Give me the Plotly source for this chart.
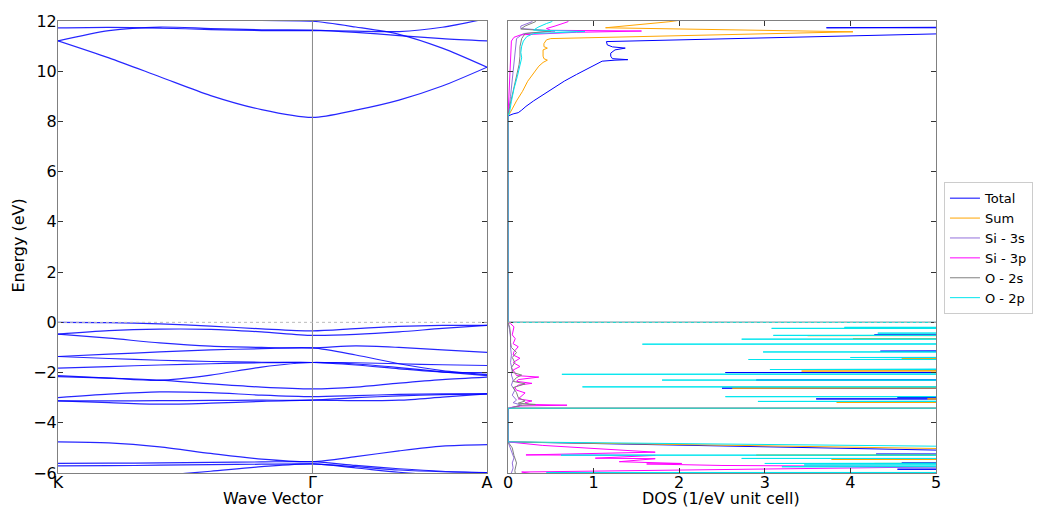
import plotly.graph_objects as go

# ---------------- band structure data ----------------
k_path = [0.0, 0.2, 0.4, 0.6, 0.8, 1.0, 1.17, 1.34, 1.51, 1.686]
k_ticks = [0.0, 1.0, 1.686]
k_labels = ["K", "Γ", "A"]

band_1 = [0.0, -0.01, -0.06, -0.15, -0.26, -0.34, -0.25, -0.16, -0.12, -0.12]
band_2 = [-0.47, -0.33, -0.27, -0.28, -0.38, -0.52, -0.48, -0.38, -0.24, -0.12]
band_3 = [-0.47, -0.63, -0.82, -0.95, -1.0, -1.02, -0.94, -1.0, -1.1, -1.2]
band_4 = [-1.36, -1.27, -1.18, -1.1, -1.05, -1.02, -1.3, -1.65, -1.92, -2.08]
band_5 = [-1.36, -1.44, -1.51, -1.56, -1.59, -1.6, -1.61, -1.65, -1.69, -1.72]
band_6 = [-1.82, -1.76, -1.7, -1.65, -1.61, -1.6, -1.7, -1.85, -1.98, -2.0]
band_7 = [-2.12, -2.22, -2.31, -2.1, -1.78, -1.6, -1.66, -1.8, -1.97, -2.12]
band_8 = [-2.16, -2.22, -2.3, -2.45, -2.58, -2.65, -2.58, -2.42, -2.28, -2.18]
band_9 = [-3.0, -2.86, -2.77, -2.8, -2.9, -2.96, -2.92, -2.87, -2.85, -2.85]
band_10 = [-3.13, -3.2, -3.26, -3.22, -3.15, -3.1, -3.12, -3.1, -2.98, -2.85]
band_11 = [-3.13, -3.13, -3.12, -3.11, -3.1, -3.1, -3.0, -2.93, -2.88, -2.85]
band_12 = [-4.76, -4.8, -4.96, -5.22, -5.45, -5.55, -5.35, -5.12, -4.93, -4.87]
band_13 = [-5.62, -5.61, -5.6, -5.58, -5.56, -5.55, -5.7, -5.83, -5.93, -5.98]
band_14 = [-5.72, -5.71, -5.69, -5.67, -5.65, -5.64, -5.75, -5.88, -5.95, -5.98]
band_15 = [-6.35, -6.25, -6.1, -5.93, -5.75, -5.64, -5.8, -5.97, -6.1, -6.2]
band_16 = [11.21, 10.53, 9.78, 9.03, 8.47, 8.16, 8.45, 8.85, 9.41, 10.16]
band_17 = [11.21, 11.62, 11.76, 11.7, 11.65, 11.64, 11.55, 11.42, 11.3, 11.21]
band_18 = [11.73, 11.75, 11.72, 11.66, 11.62, 11.62, 11.6, 11.58, 11.75, 12.1]
band_19 = [12.6, 12.4, 12.2, 12.08, 12.02, 11.99, 11.76, 11.47, 10.92, 10.16]

bands = [band_1, band_2, band_3, band_4, band_5, band_6, band_7, band_8, band_9,
         band_10, band_11, band_12, band_13, band_14, band_15, band_16, band_17,
         band_18, band_19]

# ---------------- DOS data (energy, dos) ----------------
total_energy = [-6.3, -5.87, -5.85, -5.83, -5.62, -5.6, -5.58, -5.48, -5.46, -5.44,
                -5.27, -5.25, -5.23, -5.2, -5.12, -4.76,
                -3.42, -3.41, -3.07, -3.05, -3.03, -3.01, -2.99, -2.97, -2.64, -2.62, -2.6,
                -2.32, -2.3, -2.28, -2.02, -2.0, -1.98, -1.9, -1.88, -1.86, -1.5, -1.48, -1.46,
                -1.17, -1.15, -1.13, -0.52, -0.5, -0.48, -0.01, 0.0,
                8.2, 8.23, 8.3, 8.35, 8.45, 8.6, 8.82, 9.08, 9.34, 9.61, 9.87, 10.13, 10.3,
                10.4, 10.44, 10.46, 10.5, 10.6, 10.72, 10.85, 10.92, 10.97, 11.05, 11.18,
                11.51, 11.6, 11.71, 11.73, 11.75, 12.3]
total_dos = [40, 40, 4.55, 40, 40, 4.6, 40, 40, 4.52, 40,
             40, 4.3, 40, 40, 5.5, 0,
             0, 40, 40, 3.6, 40, 40, 4.55, 40, 40, 2.5, 40,
             40, 2.9, 40, 40, 2.54, 40, 40, 4.7, 40, 40, 4.2, 40,
             40, 4.35, 40, 40, 4.28, 40, 40, 0,
             0, 0.01, 0.06, 0.12, 0.16, 0.21, 0.3, 0.42, 0.53, 0.66, 0.8, 0.95, 1.05,
             1.1, 1.25, 1.4, 1.22, 1.2, 1.2, 1.25, 1.37, 1.22, 1.16, 1.15,
             5.3, 40, 40, 3.72, 40, 40]

sum_energy = [-6.3, -5.77, -5.75, -5.73, -5.64, -5.62, -5.6, -5.48, -5.46, -5.44, -5.31, -5.29, -5.27,
              -5.1, -5.05, -4.76,
              -3.42, -3.41, -3.21, -3.19, -3.17, -3.07, -3.05, -3.03, -2.64, -2.62, -2.6,
              -1.96, -1.94, -1.92, -1.47, -1.45, -1.43, -0.67, -0.65, -0.63, -0.55, -0.53, -0.51,
              -0.24, -0.22, -0.2, -0.01, 0.0,
              8.2, 8.3, 8.5, 8.82, 9.2, 9.6, 9.9, 10.2, 10.35, 10.44, 10.5, 10.6, 10.85, 10.92,
              10.98, 11.1, 11.25, 11.3, 11.57, 11.64, 11.73, 11.97, 12.3]
sum_dos = [40, 40, 4.5, 40, 40, 4.28, 40, 40, 3.78, 40, 40, 2.9, 40,
           40, 5.5, 0,
           0, 40, 40, 3.84, 40, 40, 4.9, 40, 40, 2.62, 40,
           40, 3.43, 40, 40, 4.6, 40, 40, 4.03, 40, 40, 3.5, 40,
           40, 4.17, 40, 40, 0,
           0, 0.02, 0.05, 0.1, 0.17, 0.23, 0.29, 0.36, 0.41, 0.46, 0.42, 0.41, 0.41, 0.46,
           0.42, 0.42, 0.45, 0.5, 4.03, 2.8, 1.14, 1.88, 2.6]

si3s_energy = [-6.3, -6.0, -5.8, -5.6, -5.4, -5.2, -5.0, -4.76,
               -3.45, -3.38, -3.3, -3.2, -3.1, -2.9, -2.7, -2.5, -2.3, -2.1, -1.9, -1.6,
               -1.3, -1.0, -0.6, -0.3, 0.0,
               8.2, 9.0, 10.0, 10.9, 11.3, 11.5, 11.6, 11.7, 11.8, 11.97, 12.3]
si3s_dos = [0.05, 0.04, 0.06, 0.05, 0.07, 0.05, 0.03, 0.0,
            0.0, 0.05, 0.16, 0.06, 0.1, 0.05, 0.08, 0.04, 0.06, 0.04, 0.05, 0.03,
            0.04, 0.03, 0.03, 0.02, 0.0,
            0.0, 0.03, 0.06, 0.08, 0.1, 0.18, 0.55, 0.15, 0.15, 0.28, 0.32]

si3p_energy = [-6.3, -6.1, -5.96, -5.75, -5.7, -5.64, -5.62, -5.55, -5.43, -5.41, -5.3, -5.28,
               -5.17, -5.05, -4.9, -4.76,
               -3.45, -3.4, -3.33, -3.3, -3.27, -3.2, -3.13, -3.05, -2.95, -2.81, -2.7, -2.6,
               -2.5, -2.43, -2.35, -2.28, -2.18, -2.12, -2.0, -1.9, -1.76, -1.6, -1.43, -1.3,
               -1.17, -0.97, -0.85, -0.65, -0.5, -0.38, -0.18, -0.05, 0.0,
               8.2, 9.0, 10.0, 10.9, 11.2, 11.35, 11.45, 11.55, 11.6, 11.63, 11.7, 11.8, 11.97, 12.3]
si3p_dos = [0.6, 0.4, 0.16, 5.2, 2.5, 1.62, 2.03, 1.3, 1.72, 1.02, 1.72, 0.21,
            1.72, 1.1, 0.4, 0.0,
            0.0, 0.02, 0.15, 0.69, 0.25, 0.2, 0.28, 0.12, 0.15, 0.2, 0.1, 0.08,
            0.12, 0.28, 0.1, 0.12, 0.36, 0.1, 0.08, 0.06, 0.14, 0.06, 0.14, 0.06,
            0.07, 0.12, 0.06, 0.085, 0.05, 0.06, 0.07, 0.03, 0.0,
            0.0, 0.01, 0.02, 0.03, 0.04, 0.07, 0.15, 0.8, 1.56, 0.5, 0.45, 0.55, 0.7, 0.75]

o2s_energy = [-6.3, -5.9, -5.6, -5.3, -5.0, -4.76,
              -3.45, -3.4, -3.3, -3.27, -3.22, -3.13, -3.0, -2.8, -2.6, -2.45, -2.35, -2.2,
              -2.1, -2.0, -1.8, -1.6, -1.4, -1.2, -1.0, -0.8, -0.5, -0.2, 0.0,
              8.2, 8.6, 9.2, 9.8, 10.27, 10.6, 10.98, 11.3, 11.5, 11.6, 11.68, 11.8, 11.97, 12.3]
o2s_dos = [0.1, 0.08, 0.1, 0.07, 0.05, 0.0,
           0.0, 0.05, 0.15, 0.32, 0.12, 0.2, 0.12, 0.1, 0.06, 0.2, 0.06, 0.1,
           0.16, 0.06, 0.04, 0.08, 0.05, 0.1, 0.04, 0.03, 0.03, 0.02, 0.0,
           0.0, 0.02, 0.06, 0.1, 0.13, 0.14, 0.14, 0.16, 0.2, 0.5, 0.15, 0.2, 0.32, 0.36]

o2p_energy = [-6.3, -6.0, -5.98, -5.96, -5.77, -5.75, -5.73, -5.7, -5.68, -5.66, -5.64, -5.62,
              -5.6, -5.44, -5.42, -5.4, -5.31, -5.29, -5.27, -4.95, -4.76,
              -3.42, -3.41, -3.17, -3.15, -3.13, -2.98, -2.96, -2.94, -2.59, -2.57, -2.55,
              -2.32, -2.3, -2.28, -2.09, -2.07, -2.05, -1.9, -1.88, -1.86, -1.5, -1.48, -1.46,
              -1.42, -1.4, -1.38, -1.2, -1.18, -1.16, -0.89, -0.87, -0.85, -0.69, -0.67, -0.65,
              -0.54, -0.52, -0.5, -0.45, -0.43, -0.41, -0.26, -0.24, -0.22, -0.2, -0.18,
              -0.01, 0.0,
              8.2, 8.4, 8.8, 9.3, 9.8, 10.26, 10.53, 10.75, 11.0, 11.2, 11.38, 11.5, 11.58,
              11.64, 11.75, 11.9, 11.97, 12.3]
o2p_dos = [40, 40, 0.45, 40, 40, 3.2, 40, 40, 3.46, 40, 40, 3.0,
           40, 40, 2.73, 40, 40, 0.62, 40, 5.5, 0,
           0, 40, 40, 2.92, 40, 40, 2.54, 40, 40, 0.87, 40,
           40, 1.8, 40, 40, 0.63, 40, 40, 3.06, 40, 40, 2.81, 40,
           40, 4.0, 40, 40, 2.98, 40, 40, 1.57, 40, 40, 2.73, 40,
           40, 3.1, 40, 40, 4.32, 40, 40, 3.08, 40, 3.93, 40,
           40, 0,
           0, 0.02, 0.04, 0.07, 0.11, 0.14, 0.16, 0.15, 0.16, 0.18, 0.22, 0.3, 0.9,
           0.3, 0.35, 0.45, 0.51, 0.6]

dos_series = [
    ("Total", total_energy, total_dos, "#0000ff"),
    ("Sum", sum_energy, sum_dos, "#ffa500"),
    ("Si - 3s", si3s_energy, si3s_dos, "#9370db"),
    ("Si - 3p", si3p_energy, si3p_dos, "#ff00ff"),
    ("O - 2s", o2s_energy, o2s_dos, "#808080"),
    ("O - 2p", o2p_energy, o2p_dos, "#00e5ee"),
]

energy_range = [-6, 12]
dos_range = [0, 5]

# ---------------- figure ----------------
fig = go.Figure()

for b in bands:
    fig.add_trace(go.Scatter(x=k_path, y=b, mode="lines",
                             line=dict(color="rgba(0,0,255,0.85)", width=1.2, shape="spline", smoothing=0.8),
                             showlegend=False, hoverinfo="skip", xaxis="x", yaxis="y"))

for name, e, d, c in dos_series:
    fig.add_trace(go.Scatter(x=d, y=e, mode="lines", name=name, line=dict(color=c, width=1),
                             xaxis="x2", yaxis="y2"))

axis_common = dict(showline=True, linecolor="#808080", linewidth=1, mirror="allticks",
                   ticks="inside", ticklen=5, tickcolor="#333333", showgrid=False, zeroline=False,
                   tickfont=dict(family="DejaVu Sans", size=16, color="black"))

fig.update_layout(
    width=1045, height=513,
    margin=dict(l=58, r=107, t=16, b=40),
    paper_bgcolor="white", plot_bgcolor="white",
    font=dict(family="DejaVu Sans", size=16, color="black"),
    xaxis=dict(domain=[0, 430 / 880], range=[k_path[0], k_path[-1]], tickvals=k_ticks,
               ticktext=k_labels, ticklabelstandoff=-5, **axis_common),
    yaxis=dict(range=energy_range, dtick=2, ticklabelstandoff=-3, **axis_common),
    xaxis2=dict(domain=[451 / 880, 1], range=dos_range, dtick=1, anchor="y2",
                ticklabelstandoff=-5, **axis_common),
    yaxis2=dict(range=energy_range, dtick=2, anchor="x2", showticklabels=False, **axis_common),
    legend=dict(x=(946 - 58) / 880, y=(473 - 179) / 457, xanchor="left", yanchor="top",
                bgcolor="white", bordercolor="#cccccc", borderwidth=1,
                font=dict(family="DejaVu Sans", size=13, color="black")),
    shapes=[
        dict(type="line", xref="x", yref="y", x0=k_ticks[1], x1=k_ticks[1], y0=energy_range[0], y1=energy_range[1],
             line=dict(color="#888888", width=1)),
        dict(type="line", xref="x", yref="y", x0=k_path[0], x1=k_path[-1], y0=0, y1=0,
             line=dict(color="#bbbbbb", width=1, dash="dot")),
        dict(type="line", xref="x2", yref="y2", x0=dos_range[0], x1=dos_range[1], y0=0, y1=0,
             line=dict(color="#bbbbbb", width=1, dash="dot")),
    ],
    annotations=[
        dict(text="Energy (eV)", xref="paper", yref="paper", x=(18 - 58) / 880, y=(473 - 243) / 457,
             textangle=-90, showarrow=False, xanchor="center", yanchor="middle", font=dict(size=16)),
        dict(text="Wave Vector", xref="paper", yref="paper", x=(273 - 58) / 880, y=(473 - 499) / 457,
             showarrow=False, xanchor="center", yanchor="middle", font=dict(size=16)),
        dict(text="DOS (1/eV unit cell)", xref="paper", yref="paper", x=(723 - 58) / 880, y=(473 - 499) / 457,
             showarrow=False, xanchor="center", yanchor="middle", font=dict(size=16)),
    ],
)

fig.write_html("out.html")
